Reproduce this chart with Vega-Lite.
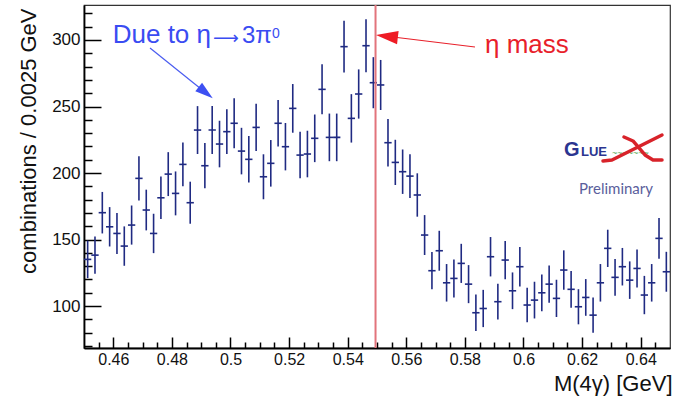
{
  "$schema": "https://vega.github.io/schema/vega-lite/v6.json",
  "width": 586,
  "height": 343,
  "autosize": {"type": "none"},
  "padding": {"left": 84, "top": 5, "right": 9, "bottom": 52},
  "background": "white",
  "config": {
    "view": {"stroke": "#333333", "strokeWidth": 1.2},
    "font": "Liberation Sans"
  },
  "datasets": {
    "hist": [
      {"x": 0.45125, "y": 135.1, "e": 14.1},
      {"x": 0.45375, "y": 138.3, "e": 14.0},
      {"x": 0.45625, "y": 170.2, "e": 15.6},
      {"x": 0.45875, "y": 159.6, "e": 14.8},
      {"x": 0.46125, "y": 154.6, "e": 15.4},
      {"x": 0.46375, "y": 145.1, "e": 14.8},
      {"x": 0.46625, "y": 160.9, "e": 14.7},
      {"x": 0.46875, "y": 196.0, "e": 16.7},
      {"x": 0.47125, "y": 172.2, "e": 15.3},
      {"x": 0.47375, "y": 154.6, "e": 14.8},
      {"x": 0.47625, "y": 181.4, "e": 16.0},
      {"x": 0.47875, "y": 199.2, "e": 16.5},
      {"x": 0.48125, "y": 184.7, "e": 16.5},
      {"x": 0.48375, "y": 206.5, "e": 16.5},
      {"x": 0.48625, "y": 177.7, "e": 15.8},
      {"x": 0.48875, "y": 232.3, "e": 18.0},
      {"x": 0.49125, "y": 205.5, "e": 17.0},
      {"x": 0.49375, "y": 232.3, "e": 18.0},
      {"x": 0.49625, "y": 221.8, "e": 17.5},
      {"x": 0.49875, "y": 231.1, "e": 16.8},
      {"x": 0.50125, "y": 237.4, "e": 18.8},
      {"x": 0.50375, "y": 216.5, "e": 17.5},
      {"x": 0.50625, "y": 210.3, "e": 17.5},
      {"x": 0.50875, "y": 234.3, "e": 17.8},
      {"x": 0.51125, "y": 197.2, "e": 16.9},
      {"x": 0.51375, "y": 207.3, "e": 17.5},
      {"x": 0.51625, "y": 237.4, "e": 17.5},
      {"x": 0.51875, "y": 219.8, "e": 17.8},
      {"x": 0.52125, "y": 248.6, "e": 18.3},
      {"x": 0.52375, "y": 213.5, "e": 17.5},
      {"x": 0.52625, "y": 214.3, "e": 17.5},
      {"x": 0.52875, "y": 226.1, "e": 17.9},
      {"x": 0.53125, "y": 262.9, "e": 18.8},
      {"x": 0.53375, "y": 226.8, "e": 17.9},
      {"x": 0.53625, "y": 226.8, "e": 17.9},
      {"x": 0.53875, "y": 295.0, "e": 19.5},
      {"x": 0.54125, "y": 241.1, "e": 18.2},
      {"x": 0.54375, "y": 259.4, "e": 18.5},
      {"x": 0.54625, "y": 295.7, "e": 19.9},
      {"x": 0.54875, "y": 267.9, "e": 19.2},
      {"x": 0.55125, "y": 266.2, "e": 18.8},
      {"x": 0.55375, "y": 222.8, "e": 17.8},
      {"x": 0.55625, "y": 208.0, "e": 17.0},
      {"x": 0.55875, "y": 201.0, "e": 16.7},
      {"x": 0.56125, "y": 197.7, "e": 16.5},
      {"x": 0.56375, "y": 183.5, "e": 16.3},
      {"x": 0.56625, "y": 153.4, "e": 15.0},
      {"x": 0.56875, "y": 126.6, "e": 14.0},
      {"x": 0.57125, "y": 141.6, "e": 15.0},
      {"x": 0.57375, "y": 117.5, "e": 14.1},
      {"x": 0.57625, "y": 120.8, "e": 14.3},
      {"x": 0.57875, "y": 132.1, "e": 14.7},
      {"x": 0.58125, "y": 116.5, "e": 14.3},
      {"x": 0.58375, "y": 95.0, "e": 13.8},
      {"x": 0.58625, "y": 98.2, "e": 14.0},
      {"x": 0.58875, "y": 137.1, "e": 14.8},
      {"x": 0.59125, "y": 103.3, "e": 13.4},
      {"x": 0.59375, "y": 134.6, "e": 14.4},
      {"x": 0.59625, "y": 111.5, "e": 13.8},
      {"x": 0.59875, "y": 129.6, "e": 14.8},
      {"x": 0.60125, "y": 100.8, "e": 13.0},
      {"x": 0.60375, "y": 104.5, "e": 13.8},
      {"x": 0.60625, "y": 110.0, "e": 13.8},
      {"x": 0.60875, "y": 116.5, "e": 14.0},
      {"x": 0.61125, "y": 105.8, "e": 14.0},
      {"x": 0.61375, "y": 127.1, "e": 14.8},
      {"x": 0.61625, "y": 112.6, "e": 13.8},
      {"x": 0.61875, "y": 99.5, "e": 13.2},
      {"x": 0.62125, "y": 106.5, "e": 13.8},
      {"x": 0.62375, "y": 93.2, "e": 13.2},
      {"x": 0.62625, "y": 117.5, "e": 14.1},
      {"x": 0.62875, "y": 143.4, "e": 14.0},
      {"x": 0.63125, "y": 121.6, "e": 13.8},
      {"x": 0.63375, "y": 129.6, "e": 14.1},
      {"x": 0.63625, "y": 119.5, "e": 14.1},
      {"x": 0.63875, "y": 128.3, "e": 14.3},
      {"x": 0.64125, "y": 108.3, "e": 14.4},
      {"x": 0.64375, "y": 117.5, "e": 14.1},
      {"x": 0.64625, "y": 150.9, "e": 15.4},
      {"x": 0.64875, "y": 125.8, "e": 15.0}
    ],
    "logoX": [
      {"s": "a", "o": 1, "x": 0.62713, "y": 209.1},
      {"s": "a", "o": 2, "x": 0.6302, "y": 209.8},
      {"s": "a", "o": 3, "x": 0.63976, "y": 220.3},
      {"s": "a", "o": 4, "x": 0.64727, "y": 228.6},
      {"s": "b", "o": 1, "x": 0.6343, "y": 227.1},
      {"s": "b", "o": 2, "x": 0.63737, "y": 224.1},
      {"s": "b", "o": 3, "x": 0.64147, "y": 213.6},
      {"s": "b", "o": 4, "x": 0.6442, "y": 209.8},
      {"s": "b", "o": 5, "x": 0.64727, "y": 209.8}
    ]
  },
  "layer": [
    {
      "data": {"name": "hist"},
      "mark": {"type": "tick", "orient": "horizontal", "size": 7.3, "thickness": 1.6, "color": "#1f2a82", "opacity": 1},
      "encoding": {
        "x": {
          "field": "x", "type": "quantitative",
          "scale": {"domain": [0.45, 0.65], "nice": false, "zero": false},
          "axis": {
            "title": "M(4γ) [GeV]",
            "values": [0.455, 0.46, 0.465, 0.47, 0.475, 0.48, 0.485, 0.49, 0.495, 0.5, 0.505, 0.51, 0.515, 0.52, 0.525, 0.53, 0.535, 0.54, 0.545, 0.55, 0.555, 0.56, 0.565, 0.57, 0.575, 0.58, 0.585, 0.59, 0.595, 0.6, 0.605, 0.61, 0.615, 0.62, 0.625, 0.63, 0.635, 0.64, 0.645],
            "tickCount": 200,
            "labelExpr": "abs(round(datum.value*1000)) % 20 === 0 ? toString(round(datum.value*100)/100) : ''",
            "tickSize": {"condition": {"test": "abs(round(datum.value*1000)) % 20 === 0", "value": -11}, "value": -6},
            "tickColor": "#000000", "tickWidth": 1.5,
            "domain": true, "domainColor": "#000000", "domainWidth": 1.8,
            "grid": false,
            "labelFontSize": 16, "labelColor": "#111111", "labelPadding": 14, "labelBaseline": "top",
            "labelFlush": false, "labelOverlap": false,
            "titleFontSize": 22, "titleFontWeight": "normal", "titleColor": "#111111",
            "titleAlign": "right", "titleAnchor": "end", "titleBaseline": "alphabetic",
            "titleX": 588, "titleY": 42
          }
        },
        "y": {
          "field": "y", "type": "quantitative",
          "scale": {"domain": [68.5, 326.3], "nice": false, "zero": false},
          "axis": {
            "title": "combinations / 0.0025 GeV",
            "values": [70, 80, 90, 100, 110, 120, 130, 140, 150, 160, 170, 180, 190, 200, 210, 220, 230, 240, 250, 260, 270, 280, 290, 300, 310, 320],
            "tickCount": 200,
            "labelExpr": "datum.value % 50 === 0 ? datum.label : ''",
            "tickSize": {"condition": {"test": "datum.value % 50 === 0", "value": -17}, "value": -8},
            "tickColor": "#000000", "tickWidth": 1.5,
            "domain": true, "domainColor": "#000000", "domainWidth": 1.8,
            "grid": false,
            "labelFontSize": 17, "labelColor": "#111111", "labelPadding": 21,
            "labelFlush": false, "labelOverlap": false,
            "titleFontSize": 22, "titleFontWeight": "normal", "titleColor": "#111111",
            "titleAngle": -90, "titleAlign": "right", "titleBaseline": "alphabetic",
            "titleX": -49, "titleY": 3
          }
        }
      }
    },
    {
      "data": {"name": "hist"},
      "mark": {"type": "errorbar", "color": "#1f2a82", "thickness": 1.6},
      "encoding": {
        "x": {"field": "x", "type": "quantitative", "title": "M(4γ) [GeV]"},
        "y": {"field": "y", "type": "quantitative", "title": "combinations / 0.0025 GeV"},
        "yError": {"field": "e"}
      }
    },
    {
      "data": {"values": [{"x": 0.5495}]},
      "mark": {"type": "rule", "color": "#e2747c", "strokeWidth": 2},
      "encoding": {"x": {"field": "x", "type": "quantitative", "title": "M(4γ) [GeV]"}}
    },
    {
      "data": {"values": [{"x": 0.47253, "y": 294.0, "x2": 0.49154, "y2": 260.4}]},
      "mark": {"type": "rule", "color": "#4a5cf0", "strokeWidth": 1.2},
      "encoding": {
        "x": {"field": "x", "type": "quantitative", "title": "M(4γ) [GeV]"},
        "y": {"field": "y", "type": "quantitative", "title": "combinations / 0.0025 GeV"},
        "x2": {"field": "x2"},
        "y2": {"field": "y2"}
      }
    },
    {
      "data": {"values": [{"x": 0.49154, "y": 260.4}]},
      "mark": {"type": "point", "shape": "M1,0L-1,-0.6L-1,0.6Z", "size": 324, "angle": 38.7, "filled": true, "color": "#3d50f2", "opacity": 1},
      "encoding": {
        "x": {"field": "x", "type": "quantitative", "title": "M(4γ) [GeV]"},
        "y": {"field": "y", "type": "quantitative", "title": "combinations / 0.0025 GeV"}
      }
    },
    {
      "data": {"values": [{"x": 0.58345, "y": 294.7, "x2": 0.55338, "y2": 302.8}]},
      "mark": {"type": "rule", "color": "#e8202a", "strokeWidth": 1.1},
      "encoding": {
        "x": {"field": "x", "type": "quantitative", "title": "M(4γ) [GeV]"},
        "y": {"field": "y", "type": "quantitative", "title": "combinations / 0.0025 GeV"},
        "x2": {"field": "x2"},
        "y2": {"field": "y2"}
      }
    },
    {
      "data": {"values": [{"x": 0.55338, "y": 302.8}]},
      "mark": {"type": "point", "shape": "M1,0L-1,-0.6L-1,0.6Z", "size": 484, "angle": 186.9, "filled": true, "color": "#ee1c25", "opacity": 1},
      "encoding": {
        "x": {"field": "x", "type": "quantitative", "title": "M(4γ) [GeV]"},
        "y": {"field": "y", "type": "quantitative", "title": "combinations / 0.0025 GeV"}
      }
    },
    {
      "data": {"values": [{"x": 0.4598, "y": 297.5, "t": "Due to η"}]},
      "mark": {"type": "text", "align": "left", "baseline": "alphabetic", "fontSize": 26, "color": "#3a4cf2"},
      "encoding": {
        "x": {"field": "x", "type": "quantitative", "title": "M(4γ) [GeV]"},
        "y": {"field": "y", "type": "quantitative", "title": "combinations / 0.0025 GeV"},
        "text": {"field": "t"}
      }
    },
    {
      "data": {"values": [{"x": 0.50392, "y": 297.5, "t": "3π"}]},
      "mark": {"type": "text", "align": "left", "baseline": "alphabetic", "fontSize": 24, "color": "#3a4cf2"},
      "encoding": {
        "x": {"field": "x", "type": "quantitative", "title": "M(4γ) [GeV]"},
        "y": {"field": "y", "type": "quantitative", "title": "combinations / 0.0025 GeV"},
        "text": {"field": "t"}
      }
    },
    {
      "data": {"values": [{"x": 0.49403, "y": 297.2, "t": "⟶"}]},
      "mark": {"type": "text", "align": "left", "baseline": "alphabetic", "fontSize": 18, "font": "DejaVu Sans", "color": "#3a4cf2"},
      "encoding": {
        "x": {"field": "x", "type": "quantitative", "title": "M(4γ) [GeV]"},
        "y": {"field": "y", "type": "quantitative", "title": "combinations / 0.0025 GeV"},
        "text": {"field": "t"}
      }
    },
    {
      "data": {"values": [{"x": 0.51416, "y": 301.7, "t": "0"}]},
      "mark": {"type": "text", "align": "left", "baseline": "alphabetic", "fontSize": 14, "color": "#3a4cf2"},
      "encoding": {
        "x": {"field": "x", "type": "quantitative", "title": "M(4γ) [GeV]"},
        "y": {"field": "y", "type": "quantitative", "title": "combinations / 0.0025 GeV"},
        "text": {"field": "t"}
      }
    },
    {
      "data": {"values": [{"x": 0.58686, "y": 290.0, "t": "η mass"}]},
      "mark": {"type": "text", "align": "left", "baseline": "alphabetic", "fontSize": 26, "color": "#e8202a"},
      "encoding": {
        "x": {"field": "x", "type": "quantitative", "title": "M(4γ) [GeV]"},
        "y": {"field": "y", "type": "quantitative", "title": "combinations / 0.0025 GeV"},
        "text": {"field": "t"}
      }
    },
    {
      "data": {"values": [{"x": 0.6138, "y": 212.8, "t": "G"}]},
      "mark": {"type": "text", "align": "left", "baseline": "alphabetic", "fontSize": 20, "fontWeight": "bold", "color": "#2b3590"},
      "encoding": {
        "x": {"field": "x", "type": "quantitative", "title": "M(4γ) [GeV]"},
        "y": {"field": "y", "type": "quantitative", "title": "combinations / 0.0025 GeV"},
        "text": {"field": "t"}
      }
    },
    {
      "data": {"values": [{"x": 0.61963, "y": 212.8, "t": "LUE"}]},
      "mark": {"type": "text", "align": "left", "baseline": "alphabetic", "fontSize": 13, "fontWeight": "bold", "color": "#2b3590"},
      "encoding": {
        "x": {"field": "x", "type": "quantitative", "title": "M(4γ) [GeV]"},
        "y": {"field": "y", "type": "quantitative", "title": "combinations / 0.0025 GeV"},
        "text": {"field": "t"}
      }
    },
    {
      "data": {"values": [{"x": 0.6302, "y": 212.5, "t": "~~~~~~~"}]},
      "mark": {"type": "text", "align": "left", "baseline": "alphabetic", "fontSize": 9, "color": "#5aaa5a"},
      "encoding": {
        "x": {"field": "x", "type": "quantitative", "title": "M(4γ) [GeV]"},
        "y": {"field": "y", "type": "quantitative", "title": "combinations / 0.0025 GeV"},
        "text": {"field": "t"}
      }
    },
    {
      "data": {"name": "logoX"},
      "mark": {"type": "line", "interpolate": "linear", "strokeWidth": 3.5, "strokeCap": "round", "strokeJoin": "round", "color": "#d8232a"},
      "encoding": {
        "x": {"field": "x", "type": "quantitative", "title": "M(4γ) [GeV]"},
        "y": {"field": "y", "type": "quantitative", "title": "combinations / 0.0025 GeV"},
        "detail": {"field": "s"},
        "order": {"field": "o"}
      }
    },
    {
      "data": {"values": [{"x": 0.63157, "y": 184.2, "t": "Preliminary"}]},
      "mark": {"type": "text", "align": "center", "baseline": "alphabetic", "fontSize": 15, "font": "Lato", "color": "#5a5e9c"},
      "encoding": {
        "x": {"field": "x", "type": "quantitative", "title": "M(4γ) [GeV]"},
        "y": {"field": "y", "type": "quantitative", "title": "combinations / 0.0025 GeV"},
        "text": {"field": "t"}
      }
    }
  ]
}
